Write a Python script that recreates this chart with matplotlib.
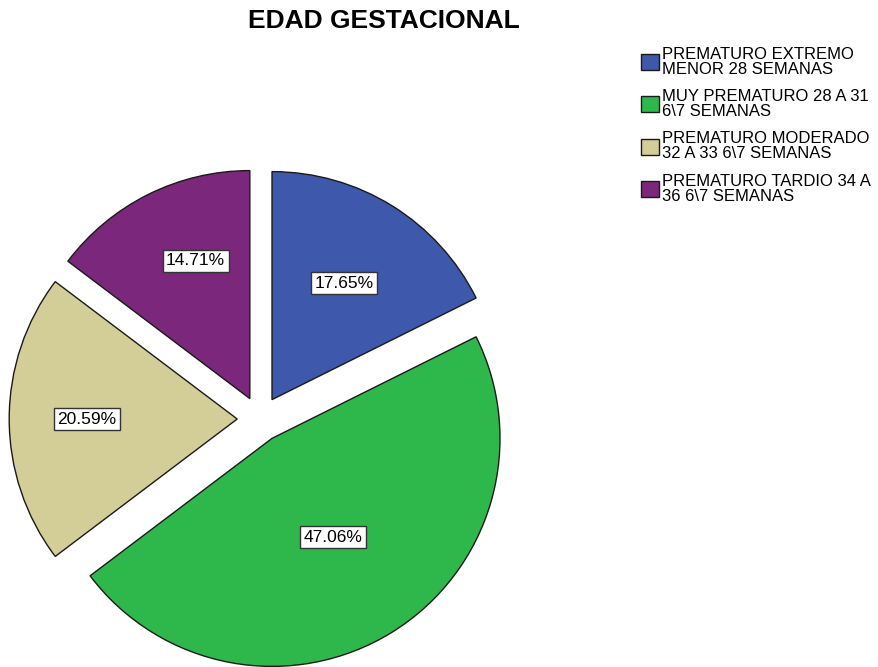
import numpy as np
import matplotlib
matplotlib.use('Agg')
import matplotlib.pyplot as plt

# datos
categorias = ['PREMATURO EXTREMO\nMENOR 28 SEMANAS',
              'MUY PREMATURO 28 A 31\n6\\7 SEMANAS',
              'PREMATURO MODERADO\n32 A 33 6\\7 SEMANAS',
              'PREMATURO TARDIO 34 A\n36 6\\7 SEMANAS']
porcentajes = [17.65, 47.06, 20.59, 14.71]
colores = ['#3E58AC', '#2EB84B', '#D3CE97', '#7B287C']

# posicion de cada etiqueta respecto al vertice de su sector
dist_etiqueta = [0.60, 0.51, 0.66, 0.65]
giro_etiqueta = [0, 0, 0, -5]   # grados

plt.rcParams['font.family'] = ['Liberation Sans', 'DejaVu Sans']

fig = plt.figure(figsize=(8.79, 6.67), dpi=100)
ax = fig.add_axes([0, 0, 1, 1])

wedges, textos, pcts = ax.pie(porcentajes, colors=colores, startangle=90,
                              counterclock=False, explode=[0.1] * 4,
                              autopct='%.2f%%',
                              wedgeprops=dict(edgecolor='#1a1a1a', linewidth=1.0),
                              textprops=dict(fontsize=12.5, color='black'))

# recolocar etiquetas de porcentaje
for w, t, f, g in zip(wedges, pcts, dist_etiqueta, giro_etiqueta):
    ang = np.deg2rad((w.theta1 + w.theta2) / 2 + g)
    cx, cy = w.center
    t.set_position((cx + f * w.r * np.cos(ang), cy + f * w.r * np.sin(ang)))
    t.set_bbox(dict(boxstyle='square,pad=0.2', facecolor='white',
                    edgecolor='#333333', linewidth=1.0))

# radio del pie = 228 px, centro en (260, 419) px desde arriba
r_px = 228.0
ax.set_xlim(-260 / r_px, (879 - 260) / r_px)
ax.set_ylim(-(667 - 419) / r_px, 419 / r_px)
ax.set_aspect('auto')
ax.axis('off')

fig.text(0.437, 0.969, 'EDAD GESTACIONAL', ha='center', va='center',
         fontsize=19, fontweight='bold')

leg = fig.legend(wedges, categorias, loc='upper left',
                 bbox_to_anchor=(0.729, 0.93), frameon=False, fontsize=12,
                 handlelength=1.1, handleheight=1.1, handletextpad=0.15,
                 labelspacing=0.74, borderpad=0, borderaxespad=0)
for t in leg.get_texts():
    t.set_linespacing(1.0)

fig.savefig('out.png', dpi=100)
